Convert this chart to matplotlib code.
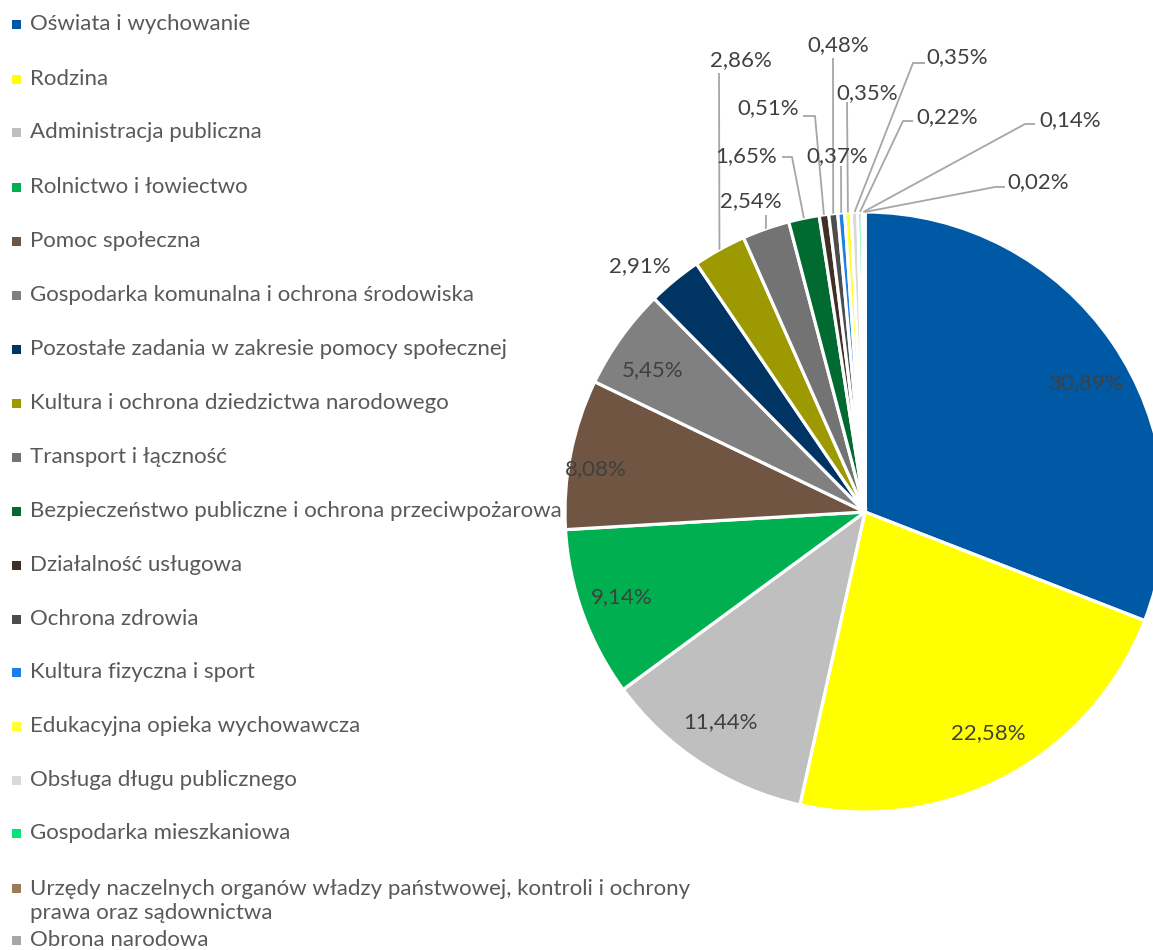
import numpy as np
import matplotlib.pyplot as plt
from matplotlib.patches import Rectangle

W, H = 1153, 950

names = [
    "Oświata i wychowanie",
    "Rodzina",
    "Administracja publiczna",
    "Rolnictwo i łowiectwo",
    "Pomoc społeczna",
    "Gospodarka komunalna i ochrona środowiska",
    "Pozostałe zadania w zakresie pomocy społecznej",
    "Kultura i ochrona dziedzictwa narodowego",
    "Transport i łączność",
    "Bezpieczeństwo publiczne i ochrona przeciwpożarowa",
    "Działalność usługowa",
    "Ochrona zdrowia",
    "Kultura fizyczna i sport",
    "Edukacyjna opieka wychowawcza",
    "Obsługa długu publicznego",
    "Gospodarka mieszkaniowa",
    "Urzędy naczelnych organów władzy państwowej, kontroli i ochrony\nprawa oraz sądownictwa",
    "Obrona narodowa",
]
shares = [30.89, 22.58, 11.44, 9.14, 8.08, 5.45, 2.91, 2.86, 2.54, 1.65,
          0.51, 0.48, 0.37, 0.35, 0.35, 0.22, 0.14, 0.02]
colors = ["#0059A5", "#FFFF00", "#BFBFBF", "#00B050", "#6F5542", "#808080",
          "#003462", "#9C9A00", "#737373", "#006A31", "#3F2F24", "#4D4D4D",
          "#1E7FE6", "#FFFF33", "#D9D9D9", "#00E676", "#9C7A5A", "#A6A6A6"]

# label centres in pixels (x, y from top)
label_pos = [(1085, 383), (988, 733), (720, 722), (622, 597), (596, 469),
             (653, 370), (640, 266), (741, 60), (751, 201), (746, 156),
             (768, 108), (838, 45), (837, 156), (867, 93), (957, 57),
             (947, 117), (1070, 120), (1038, 182)]
# leader lines: elbow point and end of horizontal stub (None = no line)
leaders = [None, None, None, None, None, None, None,
           [(719, 73)], [(766, 215)], [(792, 157), (782, 157)],
           [(815, 116), (803, 116)], [(833, 58)], [(841, 166)],
           [(847, 102)], [(913, 63), (925, 63)], [(903, 121), (913, 121)],
           [(1025, 124), (1035, 124)], [(995, 187), (1005, 187)]]
legend_y = [24, 79, 132, 187, 241, 295, 349, 403, 457, 511, 565, 619, 672,
            726, 780, 833, 901, 940]

plt.rcParams['font.family'] = ['Lato', 'DejaVu Sans']

fig = plt.figure(figsize=(W / 100, H / 100), dpi=100)
ax = fig.add_axes([0, 0, 1, 1])

# pie centre / radius in pixel units
cx, cy, r = 865, H - 512, 300
wedges, _ = ax.pie(shares, colors=colors, startangle=90, counterclock=False,
                   center=(cx, cy), radius=r, frame=True,
                   wedgeprops=dict(edgecolor='white', linewidth=2.3))
ax.set_xlim(0, W)
ax.set_ylim(0, H)
ax.set_aspect('equal')
ax.axis('off')

for i, (w, v) in enumerate(zip(wedges, shares)):
    txt = f"{v:.2f}".replace('.', ',') + '%'
    lx, ly = label_pos[i]
    ax.text(lx, H - ly, txt, ha='center', va='center', fontsize=16,
            color='#404040')
    if leaders[i] is not None:
        ang = np.deg2rad((w.theta1 + w.theta2) / 2)
        pts = [(cx + r * np.cos(ang), cy + r * np.sin(ang))]
        pts += [(x, H - y) for x, y in leaders[i]]
        xs, ys = zip(*pts)
        ax.plot(xs, ys, color='#A6A6A6', lw=1.3, solid_capstyle='butt')

# legend, drawn by hand to match the spacing
for name, col, y in zip(names, colors, legend_y):
    first_line_y = y - 13 if '\n' in name else y
    ax.add_patch(Rectangle((12, H - first_line_y - 4.5), 9, 9, color=col, lw=0))
    ax.text(30, H - y, name, ha='left', va='center', fontsize=16,
            color='#595959', linespacing=1.2)

fig.savefig('out.png', dpi=100)
